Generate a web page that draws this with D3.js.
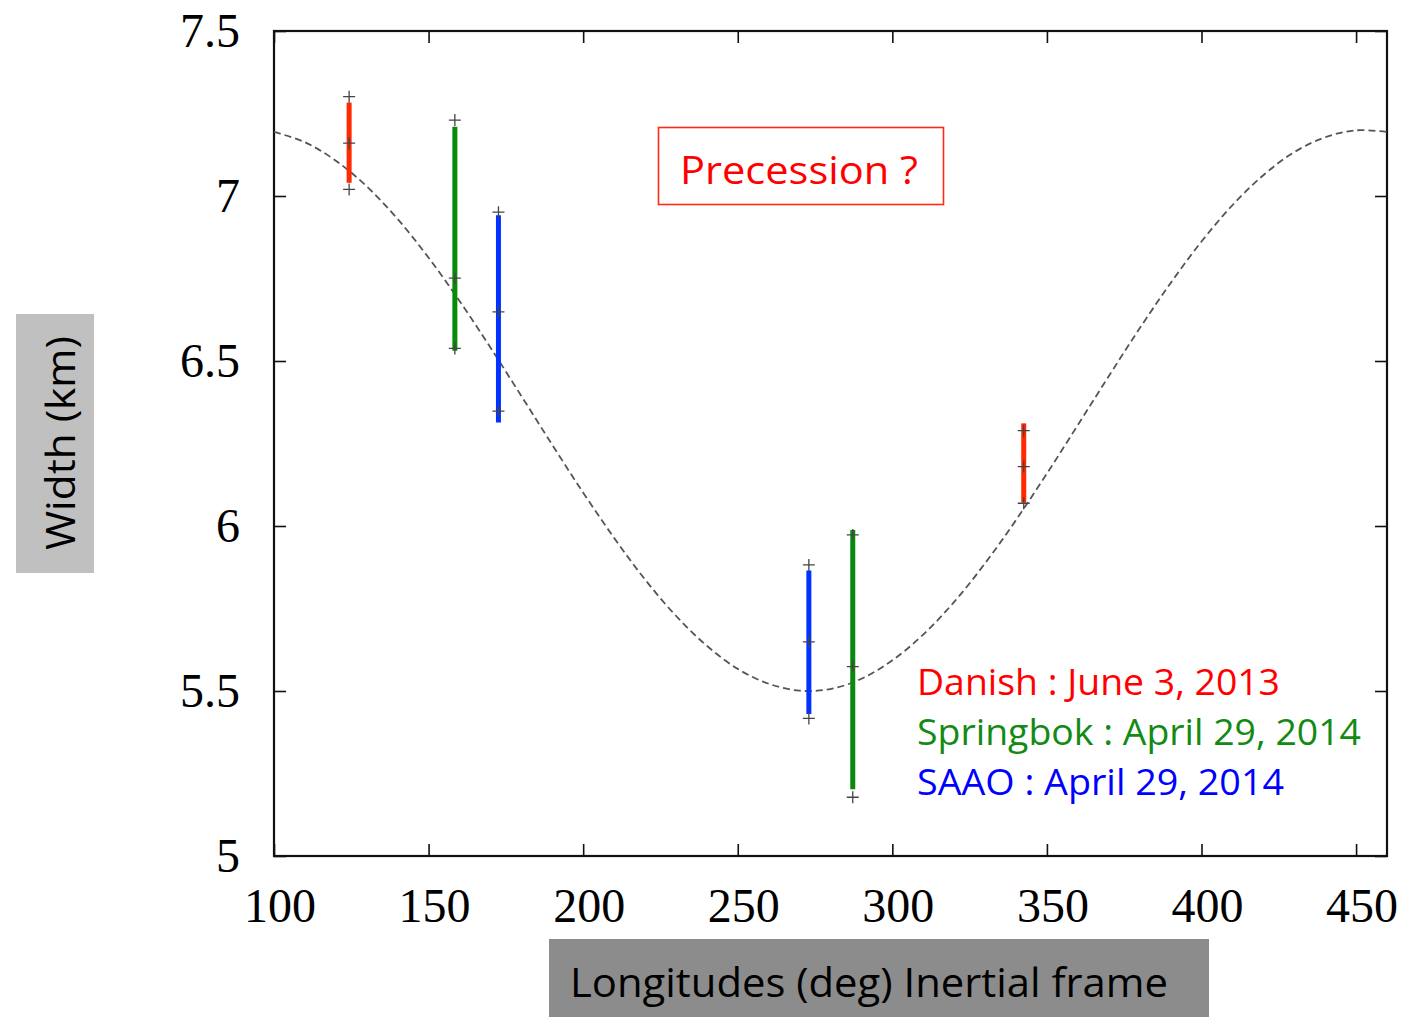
<!DOCTYPE html>
<html>
<head>
<meta charset="utf-8">
<script src="https://cdn.jsdelivr.net/npm/d3@7"></script>
<style>
  body { margin: 0; background: #fff; }
  .tick-label { font-family: "Liberation Serif", "Times New Roman", serif; font-size: 48px; fill: #000; }
  .note { font-family: "Open Sans", "Noto Sans", sans-serif; }
</style>
</head>
<body>
<div id="chart"></div>
<script>
// tick values
var xTicks = [100, 150, 200, 250, 300, 350, 400, 450];
var yTicks = [5, 5.5, 6, 6.5, 7, 7.5];
var yTickLabels = ["5", "5.5", "6", "6.5", "7", "7.5"];

// error bars (+ markers: lo / mid / hi, coloured bar: barLo / barHi)
var obsLon   = [124.3, 158.5, 172.6, 273.0, 287.2, 342.5];
var obsSite  = ["Danish", "Springbok", "SAAO", "SAAO", "Springbok", "Danish"];
var obsLo    = [7.02, 6.538, 6.348, 5.417, 5.178, 6.069];
var obsMid   = [7.16, 6.751, 6.649, 5.649, 5.574, 6.180];
var obsHi    = [7.301, 7.23, 6.951, 5.882, 5.973, 6.289];
var obsBarLo = [7.04, 6.531, 6.314, 5.43, 5.202, 6.071];
var obsBarHi = [7.283, 7.21, 6.942, 5.865, 5.988, 6.311];

// dashed model curve, read every 10 deg
var curveLon = [100,110,120,130,140,150,160,170,180,190,200,210,220,230,240,250,260,270,280,290,
                300,310,320,330,340,350,360,370,380,390,400,410,420,430,440,450,460];
var curveW   = [7.194,7.163,7.107,7.029,6.930,6.813,6.682,6.541,6.394,6.246,6.101,5.964,5.838,5.728,
                5.637,5.567,5.522,5.501,5.506,5.537,5.593,5.671,5.770,5.887,6.018,6.159,6.306,6.454,
                6.599,6.736,6.862,6.972,7.063,7.133,7.178,7.199,7.194];

var legendNames = ["Danish : June 3, 2013", "Springbok : April 29, 2014", "SAAO : April 29, 2014"];
var legendSites = ["Danish", "Springbok", "SAAO"];

var barColor  = {"Danish": "#ff2a00", "Springbok": "#0a8a0a", "SAAO": "#0033ff"};
var textColor = {"Danish": "#ff0000", "Springbok": "#138a13", "SAAO": "#0000ff"};

var W = 1416, H = 1021;
var margin = {top: 31, right: 29, bottom: 165, left: 274};
var width = W - margin.left - margin.right,
    height = H - margin.top - margin.bottom;

var svg = d3.select("#chart").append("svg")
    .attr("width", W)
    .attr("height", H);

var g = svg.append("g")
    .attr("transform", "translate(" + margin.left + "," + margin.top + ")");

var x = d3.scaleLinear().domain([100, 460]).range([0, width]);
var y = d3.scaleLinear().domain([5, 7.5]).range([height, 0]);

// inward ticks on all four sides
var tl = 12;
g.append("g").attr("transform", "translate(0," + height + ")")
  .call(d3.axisBottom(x).tickValues(xTicks).tickSize(-tl).tickSizeOuter(0).tickFormat(""));
g.append("g")
  .call(d3.axisTop(x).tickValues(xTicks).tickSize(-tl).tickSizeOuter(0).tickFormat(""));
g.append("g")
  .call(d3.axisLeft(y).tickValues(yTicks).tickSize(-tl).tickSizeOuter(0).tickFormat(""));
g.append("g").attr("transform", "translate(" + width + ",0)")
  .call(d3.axisRight(y).tickValues(yTicks).tickSize(-tl).tickSizeOuter(0).tickFormat(""));
g.selectAll(".domain").remove();
g.selectAll(".tick line").attr("stroke", "#111").attr("stroke-width", 1.6);

g.append("rect")
  .attr("width", width).attr("height", height)
  .attr("fill", "none").attr("stroke", "#111").attr("stroke-width", 2.2);

// tick labels (the original sits slightly right of each tick)
g.selectAll(".xl").data(xTicks).enter().append("text")
  .attr("class", "tick-label")
  .attr("x", d => x(d) + 6).attr("y", height + 66)
  .attr("text-anchor", "middle")
  .text(d => d);

g.selectAll(".yl").data(yTicks).enter().append("text")
  .attr("class", "tick-label")
  .attr("x", -34).attr("y", d => y(d) + 16)
  .attr("text-anchor", "end")
  .text((d, i) => yTickLabels[i]);

// dashed curve
var line = d3.line().x((d, i) => x(curveLon[i])).y(d => y(d)).curve(d3.curveCatmullRom);
g.append("path")
  .datum(curveW)
  .attr("d", line)
  .attr("fill", "none")
  .attr("stroke", "#555")
  .attr("stroke-width", 1.8)
  .attr("stroke-dasharray", "7,4");

// coloured error bars
var obs = g.selectAll(".obs").data(obsLon).enter().append("g");
obs.append("line")
  .attr("x1", d => x(d)).attr("x2", d => x(d))
  .attr("y1", (d, i) => y(obsBarLo[i])).attr("y2", (d, i) => y(obsBarHi[i]))
  .attr("stroke", (d, i) => barColor[obsSite[i]])
  .attr("stroke-width", 5);

// grey "+" markers at lo, mid, hi
[obsLo, obsMid, obsHi].forEach(function(arr) {
  obs.append("path")
    .attr("d", (d, i) => {
      var cx = x(d), cy = y(arr[i]);
      return "M" + (cx - 6) + "," + cy + "H" + (cx + 6) + "M" + cx + "," + (cy - 6) + "V" + (cy + 6);
    })
    .attr("stroke", "#444")
    .attr("stroke-width", 1.3)
    .attr("fill", "none");
});

// Precession box
svg.append("rect")
  .attr("x", 658.5).attr("y", 127.5).attr("width", 285).attr("height", 77)
  .attr("fill", "#fff").attr("stroke", "#ff2a1a").attr("stroke-width", 1.6);
svg.append("text")
  .attr("class", "note")
  .attr("x", 680).attr("y", 184)
  .attr("textLength", 238).attr("lengthAdjust", "spacingAndGlyphs")
  .style("font-size", "38px").style("fill", "#ff0000")
  .text("Precession ?");

// legend
svg.selectAll(".leg").data(legendNames).enter().append("text")
  .attr("class", "note")
  .attr("x", 917)
  .attr("y", (d, i) => 695 + i * 50)
  .style("font-size", "36px")
  .style("fill", (d, i) => textColor[legendSites[i]])
  .attr("textLength", (d, i) => [363, 444, 367][i])
  .attr("lengthAdjust", "spacingAndGlyphs")
  .text(d => d);

// axis titles in grey boxes
svg.append("rect").attr("x", 16).attr("y", 314).attr("width", 78).attr("height", 259).attr("fill", "#c0c0c0");
svg.append("text")
  .attr("class", "note")
  .attr("transform", "translate(75,443) rotate(-90)")
  .attr("text-anchor", "middle")
  .attr("textLength", 214).attr("lengthAdjust", "spacingAndGlyphs")
  .style("font-size", "40px").style("fill", "#000")
  .text("Width (km)");

svg.append("rect").attr("x", 549).attr("y", 939).attr("width", 660).attr("height", 78).attr("fill", "#8c8c8c");
svg.append("text")
  .attr("class", "note")
  .attr("x", 570).attr("y", 997)
  .attr("textLength", 598).attr("lengthAdjust", "spacingAndGlyphs")
  .style("font-size", "40px").style("fill", "#000")
  .text("Longitudes (deg) Inertial frame");
</script>
</body>
</html>
